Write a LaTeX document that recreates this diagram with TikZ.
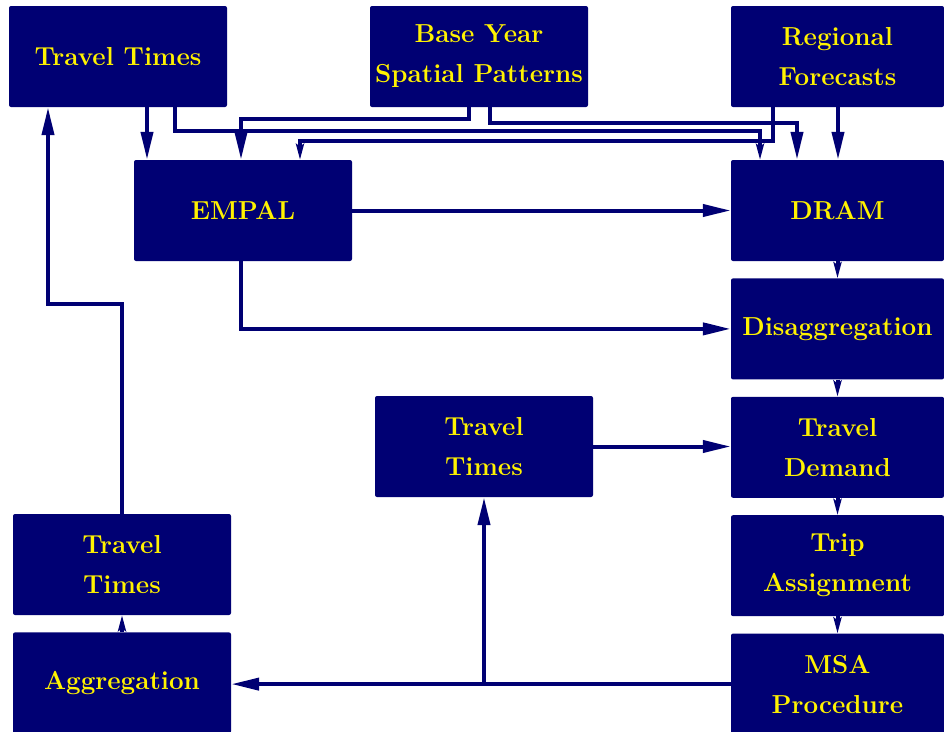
\documentclass[tikz,border=0pt]{standalone}
\usepackage{xcolor}
\usetikzlibrary{arrows.meta}
\usetikzlibrary{positioning}
\definecolor{boxblue}{RGB}{0,0,115}
\tikzset{box/.style={draw=none,fill=boxblue,rounded corners=2pt,
                     text=yellow,font=\fontsize{26}{40}\selectfont\bfseries,
                     align=center,minimum width=218pt,minimum height=101pt,inner sep=0pt},
         colbox/.style={box,minimum width=213pt},
         link/.style={draw=boxblue,line width=4pt},
         bigarrow/.style={link,-{Triangle[length=28pt,width=12pt]}},
         smallarrow/.style={link,-{Stealth[length=16pt,width=8pt,inset=3pt]}},
         }
\begin{document}
\begin{tikzpicture}[x=1pt,y=-1pt]
\useasboundingbox (0,0) rectangle (944,731);
% top row
\node[box] (tttop) at (118,56.5) {Travel Times};
\node[box] (base) at (479,56.5) {Base Year\\Spatial Patterns};
\node[colbox] (regional) at (837.5,56.5) {Regional\\Forecasts};
% right column
\node[colbox] (dram) at (837.5,210.5) {DRAM};
\node[colbox,below=17pt of dram] (disagg) {Disaggregation};
\node[colbox,below=17pt of disagg] (demand) {Travel\\Demand};
\node[colbox,below=17pt of demand] (trip) {Trip\\Assignment};
\node[colbox,below=17pt of trip] (msa) {MSA\\Procedure};
% the rest
\node[box] (empal) at (243,210.5) {EMPAL};
\node[box] (ttmid) at (484,446.5) {Travel\\Times};
\node[box] (ttleft) at (122,564.5) {Travel\\Times};
\node[box,below=17pt of ttleft] (aggr) {Aggregation};

% inputs to EMPAL and DRAM
\draw[bigarrow] (147,0 |- tttop.south) -- (147,0 |- empal.north);
\draw[smallarrow] (175,0 |- tttop.south) |- (760,131) -- (760,0 |- dram.north);
\draw[bigarrow] (469,0 |- base.south) |- (241,119) -- (241,0 |- empal.north);
\draw[bigarrow] (490,0 |- base.south) |- (797,123) -- (797,0 |- dram.north);
\draw[smallarrow] (773,0 |- regional.south) |- (300,141) -- (300,0 |- empal.north);
\draw[bigarrow] (838,0 |- regional.south) -- (838,0 |- dram.north);

\draw[bigarrow] (empal.east) -- (empal.east -| dram.west);
\draw[bigarrow] (241,0 |- empal.south) |- (disagg.west);

% right column chain
\draw[smallarrow] (dram.south) -- (disagg.north);
\draw[smallarrow] (disagg.south) -- (demand.north);
\draw[smallarrow] (demand.south) -- (trip.north);
\draw[smallarrow] (trip.south) -- (msa.north);

\draw[bigarrow] (ttmid.east) -- (ttmid.east -| demand.west);
\draw[bigarrow] (msa.west) -- (msa.west -| aggr.east);
\draw[bigarrow] (ttmid.south |- msa.west) -- (ttmid.south);

% feedback
\draw[smallarrow] (aggr.north) -- (ttleft.south);
\draw[bigarrow] (ttleft.north) |- (48,304) -- (48,0 |- tttop.south);
\end{tikzpicture}
\end{document}
